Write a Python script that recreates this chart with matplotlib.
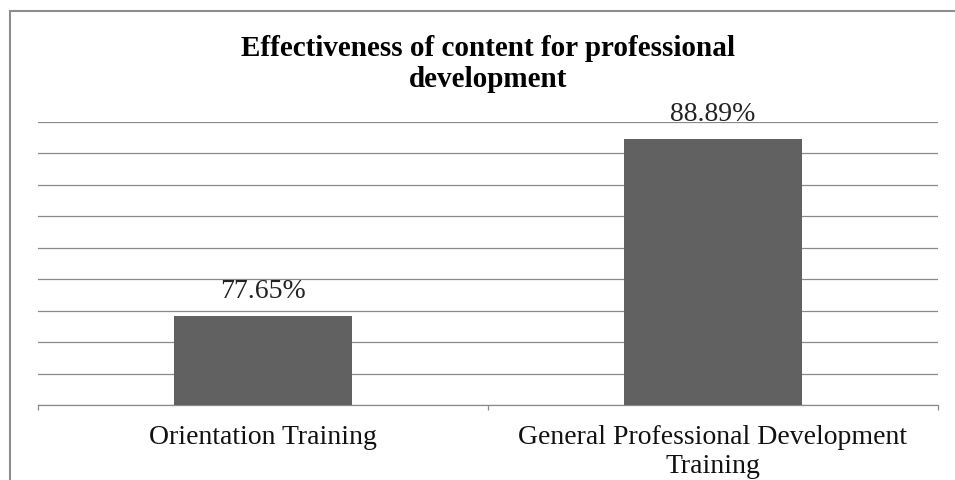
import matplotlib.pyplot as plt
from matplotlib.patches import Rectangle

categories = ['Orientation Training', 'General Professional Development\nTraining']
values = [77.65, 88.89]
value_labels = ['77.65%', '88.89%']
title = 'Effectiveness of content for professional\ndevelopment'

plt.rcParams['font.family'] = ['Liberation Serif', 'DejaVu Serif']

fig = plt.figure(figsize=(9.55, 4.81), dpi=100)
ax = fig.add_axes([38 / 955, 75 / 481, 900 / 955, 283 / 481])

x = list(range(len(categories)))
bars = ax.bar(x, values, width=0.395, color='#616161', zorder=3)

ax.set_xlim(-0.5, len(categories) - 0.5)
ax.set_ylim(72, 90)
ax.set_yticks(range(72, 91, 2))
ax.yaxis.grid(True, color='#8a8a8a', linewidth=0.9, zorder=0)
ax.tick_params(axis='y', left=False, labelleft=False)

for s in ['top', 'right', 'left']:
    ax.spines[s].set_visible(False)
ax.spines['bottom'].set_color('#8a8a8a')
ax.spines['bottom'].set_linewidth(0.9)

ax.set_xticks(x)
ax.set_xticklabels(categories, fontsize=20, linespacing=1.2, color='#111111')
ax.set_xticks([i - 0.5 for i in range(len(categories) + 1)], minor=True)
ax.tick_params(axis='x', which='major', length=0, pad=14)
ax.tick_params(axis='x', which='minor', length=3.5, color='#8a8a8a', width=0.9)

for b, lab in zip(bars, value_labels):
    ax.annotate(lab, (b.get_x() + b.get_width() / 2, b.get_height()),
                xytext=(0, 14), textcoords='offset points',
                ha='center', va='baseline', fontsize=20, color='#222222')

fig.text(488 / 955, 1 - 35 / 481, title, ha='center', va='top',
         fontsize=21, fontweight='bold', linespacing=1.2)

# outer chart frame (cut off at right and bottom)
fig.add_artist(Rectangle((10 / 955, -0.1), 2, 1.1 - 12 / 481,
                         transform=fig.transFigure, fill=False,
                         edgecolor='#8c8c8c', linewidth=1.5))

fig.savefig('out.png', dpi=100)
